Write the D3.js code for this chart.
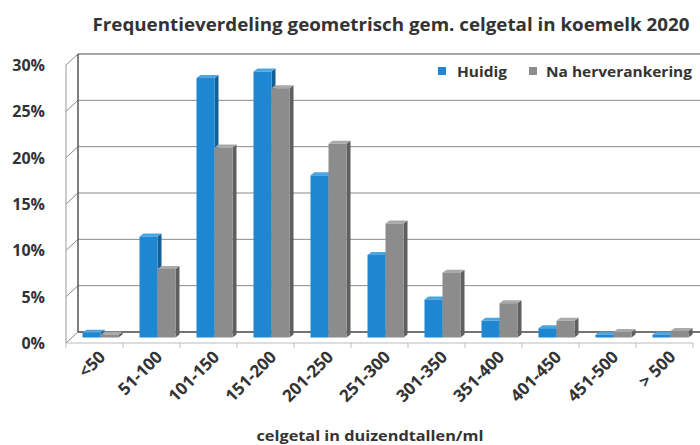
<!DOCTYPE html>
<html>
<head>
<meta charset="utf-8">
<script src="https://cdn.jsdelivr.net/npm/d3@7"></script>
<style>
  body { margin: 0; background: #fff; }
  text { font-family: "Open Sans", sans-serif; font-weight: 700; fill: #333; }
</style>
</head>
<body>
<div id="chart"></div>
<script>
var categories = ["<50", "51-100", "101-150", "151-200", "201-250", "251-300",
  "301-350", "351-400", "401-450", "451-500", "> 500"];
var huidig = [0.5, 10.9, 28.0, 28.7, 17.5, 8.9, 4.1, 1.8, 1.0, 0.3, 0.3];
var naHerverankering = [0.3, 7.4, 20.5, 26.9, 20.9, 12.3, 7.0, 3.7, 1.8, 0.6, 0.7];
var seriesNames = ["Huidig", "Na herverankering"];
var yTicks = [0, 5, 10, 15, 20, 25, 30];

var width = 700, height = 445;
var plotLeft = 66, plotRight = 693, plotBottom = 343, plotTop = 65;
// depth of the 3d box (back wall offset) and of each bar
var depth = { dx: 12, dy: -11 };
var barDepth = { dx: 4, dy: -3 };

var colors = {
  "Huidig": { front: "#1d87d2", top: "#4aa5e2", side: "#145f98" },
  "Na herverankering": { front: "#8c8c8c", top: "#a9a9a9", side: "#5f5f5f" }
};

var svg = d3.select("#chart").append("svg")
  .attr("width", width)
  .attr("height", height);

var x = d3.scaleBand().domain(categories).range([plotLeft, plotRight]);
var xSub = d3.scaleBand().domain(seriesNames).range([-18, 18]);
var y = d3.scaleLinear().domain([0, 30]).range([plotBottom, plotTop]);

// back wall gridlines
svg.append("g").selectAll("line")
  .data(yTicks)
  .enter().append("line")
    .attr("x1", plotLeft + depth.dx)
    .attr("x2", width + 10)
    .attr("y1", function(d) { return y(d) + depth.dy; })
    .attr("y2", function(d) { return y(d) + depth.dy; })
    .style("stroke", function(d) { return d === 0 ? "#444" : "#8a8a8a"; })
    .style("stroke-width", function(d) { return d === 0 || d === 30 ? 1.5 : 1; });

// left wall gridlines
svg.append("g").selectAll("line")
  .data(yTicks)
  .enter().append("line")
    .attr("x1", plotLeft)
    .attr("x2", plotLeft + depth.dx)
    .attr("y1", function(d) { return y(d); })
    .attr("y2", function(d) { return y(d) + depth.dy; })
    .style("stroke", "#888")
    .style("stroke-width", 1);

// left wall verticals
svg.append("line")
  .attr("x1", plotLeft).attr("x2", plotLeft)
  .attr("y1", y(0)).attr("y2", y(30))
  .style("stroke", "#999");
svg.append("line")
  .attr("x1", plotLeft + depth.dx).attr("x2", plotLeft + depth.dx)
  .attr("y1", y(0) + depth.dy).attr("y2", y(30) + depth.dy)
  .style("stroke", "#555").style("stroke-width", 1.5);

// floor front edge + ticks
svg.append("line")
  .attr("x1", plotLeft).attr("x2", plotRight)
  .attr("y1", plotBottom).attr("y2", plotBottom)
  .style("stroke", "#bbb");
svg.append("g").selectAll("line")
  .data(categories.concat([null]))
  .enter().append("line")
    .attr("x1", function(d, i) { return plotLeft + i * x.bandwidth(); })
    .attr("x2", function(d, i) { return plotLeft + i * x.bandwidth(); })
    .attr("y1", plotBottom)
    .attr("y2", plotBottom + 5)
    .style("stroke", "#bbb");

// bars
var mid = { dx: depth.dx / 2, dy: depth.dy / 2 };
var bars = [];
categories.forEach(function(c, i) {
  bars.push({ cat: c, series: "Huidig", value: huidig[i] });
  bars.push({ cat: c, series: "Na herverankering", value: naHerverankering[i] });
});

function pts(arr) {
  return arr.map(function(p) { return p[0] + "," + p[1]; }).join(" ");
}

var barG = svg.append("g").selectAll("g")
  .data(bars)
  .enter().append("g");

barG.each(function(d) {
  var g = d3.select(this);
  var w = xSub.bandwidth();
  var x0 = x(d.cat) + x.bandwidth() / 2 + xSub(d.series) + mid.dx;
  var x1 = x0 + w;
  var yt = y(d.value) + mid.dy;
  var yb = y(0) + mid.dy;
  var c = colors[d.series];
  g.append("polygon")
    .attr("points", pts([[x1, yt], [x1 + barDepth.dx, yt + barDepth.dy],
      [x1 + barDepth.dx, yb + barDepth.dy], [x1, yb]]))
    .style("fill", c.side);
  g.append("polygon")
    .attr("points", pts([[x0, yt], [x1, yt], [x1 + barDepth.dx, yt + barDepth.dy],
      [x0 + barDepth.dx, yt + barDepth.dy]]))
    .style("fill", c.top);
  g.append("rect")
    .attr("x", x0)
    .attr("y", yt)
    .attr("width", w)
    .attr("height", Math.max(0.5, yb - yt))
    .style("fill", c.front);
});

// y labels
svg.append("g").selectAll("text")
  .data(yTicks)
  .enter().append("text")
    .attr("x", 45)
    .attr("y", function(d) { return y(d) + 6; })
    .attr("text-anchor", "end")
    .style("font-size", "16px")
    .text(function(d) { return d + "%"; });

// x labels
svg.append("g").selectAll("text")
  .data(categories)
  .enter().append("text")
    .attr("text-anchor", "end")
    .attr("transform", function(d) {
      return "translate(" + (x(d) + x.bandwidth() / 2 + 12) + "," + (plotBottom + 15) + ") rotate(-45)";
    })
    .style("font-size", "17px")
    .text(function(d) { return d; });

// title
svg.append("text")
  .attr("x", 391)
  .attr("y", 31)
  .attr("text-anchor", "middle")
  .attr("textLength", 597)
  .attr("lengthAdjust", "spacingAndGlyphs")
  .style("font-size", "17px")
  .text("Frequentieverdeling  geometrisch gem. celgetal in koemelk 2020");

// x axis title
svg.append("text")
  .attr("x", 370)
  .attr("y", 441)
  .attr("text-anchor", "middle")
  .attr("textLength", 227)
  .attr("lengthAdjust", "spacingAndGlyphs")
  .style("font-size", "15px")
  .text("celgetal in duizendtallen/ml");

// legend
var legend = svg.append("g").selectAll("g")
  .data([
    { name: "Huidig", x: 438, tx: 457, len: 50 },
    { name: "Na herverankering", x: 529, tx: 546, len: 146 }
  ])
  .enter().append("g");
legend.append("rect")
  .attr("x", function(d) { return d.x; })
  .attr("y", 67)
  .attr("width", 8)
  .attr("height", 8)
  .style("fill", function(d) { return colors[d.name].front; });
legend.append("text")
  .attr("x", function(d) { return d.tx; })
  .attr("y", 77)
  .attr("textLength", function(d) { return d.len; })
  .attr("lengthAdjust", "spacingAndGlyphs")
  .style("font-size", "15px")
  .text(function(d) { return d.name; });
</script>
</body>
</html>
